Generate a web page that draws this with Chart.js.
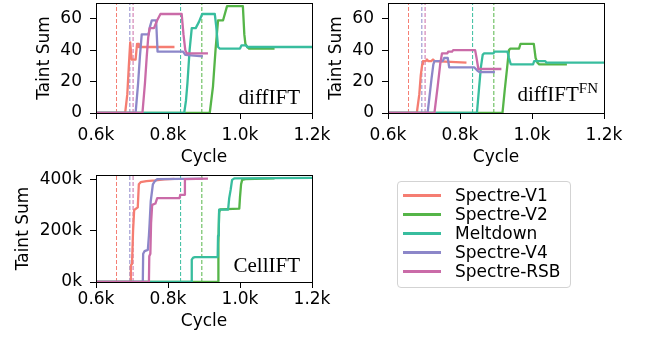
<!DOCTYPE html>
<html><head><meta charset="utf-8">
<script src="https://cdn.jsdelivr.net/npm/chart.js@4"></script>
<style>
html,body{margin:0;padding:0;background:#fff;width:645px;height:339px;overflow:hidden;position:relative;}
canvas{position:absolute;}
#legend{position:absolute;left:397px;top:181px;width:174px;height:107px;border:1px solid #d3d3d3;border-radius:4px;background:#fff;box-sizing:border-box;font-family:'DejaVu Sans';font-size:17px;color:#000;}
.row{position:absolute;left:0;width:100%;height:19px;}
.sw{position:absolute;left:5px;top:8px;width:38px;height:3px;}
.lbl{position:absolute;left:57px;top:0;white-space:nowrap;line-height:19px;}
</style></head><body>
<canvas id="c1" width="335" height="170" style="left:0;top:0"></canvas>
<canvas id="c2" width="320" height="170" style="left:325px;top:0"></canvas>
<canvas id="c3" width="335" height="169" style="left:0;top:170px"></canvas>
<div id="legend"></div>
<script>
// ---------- data ----------
const seriesNames = ['Spectre-V1','Spectre-V2','Meltdown','Spectre-V4','Spectre-RSB'];
const seriesColors = ['#f57d72','#55b548','#38bd9e','#8c87c9','#ca6ba8'];
const attackCycles = [657, 894, 835, 694, 703];   // dashed markers, per series
const xTickValues = [600, 800, 1000, 1200];
const xTickLabels = ['0.6k','0.8k','1.0k','1.2k'];
const diffYTickValues = [0, 20, 40, 60];
const diffYTickLabels = ['0','20','40','60'];
const cellYTickValues = [0, 200, 400];            // thousands
const cellYTickLabels = ['0k','200k','400k'];

// diffIFT  [cycle, taint sum]
const diffIFT_V1  = [[600,0],[681,0],[687,12],[691,29],[695,45],[697,45],[699,34],[710,34],[714,44],[717,44],[719,42],[818,42]];
const diffIFT_V2  = [[600,0],[916,0],[925,17],[932,40],[939,59],[953,59],[964,68],[1008,68],[1012,50],[1015,44],[1020,42],[1025,41],[1096,41]];
const diffIFT_MD  = [[600,0],[845,0],[850,8],[854,19],[860,40],[866,54],[877,54],[886,58],[895,63],[930,63],[934,55],[939,42],[944,41],[1000,41],[1004,43],[1017,43],[1020,42],[1200,42]];
const diffIFT_V4  = [[600,0],[710,0],[717,19],[722,36],[727,50],[746,50],[750,55],[755,59],[767,59],[771,39],[842,39],[848,37],[897,36]];
const diffIFT_RSB = [[600,0],[729,0],[736,19],[741,36],[745,48],[749,54],[761,54],[770,59],[779,63],[838,63],[843,50],[848,40],[852,38],[911,38]];

// diffIFT^FN
const diffFN_V1  = [[600,0],[680,0],[687,12],[691,24],[695,31],[697,33],[705,33],[708,34],[712,33],[720,33],[725,34],[730,33],[818,32]];
const diffFN_V2  = [[600,0],[918,0],[924,14],[931,29],[936,40],[940,41],[964,41],[968,44],[1005,44],[1010,35],[1015,32],[1020,31],[1097,31]];
const diffFN_MD  = [[600,0],[847,0],[853,16],[858,29],[863,37],[867,38],[893,38],[896,39],[932,39],[936,35],[941,31],[1003,31],[1006,33],[1037,33],[1040,32],[1200,32]];
const diffFN_V4  = [[600,0],[710,0],[715,10],[721,22],[726,31],[729,33],[752,33],[756,35],[766,35],[770,29],[840,29],[848,27],[854,26],[897,26]];
const diffFN_RSB = [[600,0],[729,0],[738,17],[745,31],[750,38],[765,38],[767,39],[778,39],[781,40],[842,40],[846,35],[851,28],[915,28]];

// CellIFT (taint sum in thousands)
const cell_V1  = [[600,0],[696,0],[697,65],[700,70],[703,200],[706,280],[716,290],[719,380],[724,388],[740,392],[765,395],[790,399],[818,401]];
const cell_V2  = [[600,0],[939,0],[940,150],[942,270],[945,282],[998,285],[1000,330],[1003,380],[1006,397],[1015,400],[1096,403]];
const cell_MD  = [[600,0],[865,0],[866,87],[870,95],[875,97],[938,97],[939,180],[941,200],[942,281],[967,281],[970,326],[974,358],[978,397],[985,403],[1200,405]];
const cell_V4  = [[600,0],[730,0],[731,110],[735,120],[744,125],[747,180],[749,229],[752,313],[758,380],[763,391],[770,400],[897,402]];
const cell_RSB = [[600,0],[747,0],[748,100],[751,110],[753,230],[756,300],[765,305],[770,326],[832,326],[834,339],[845,339],[847,400],[911,402]];

// ---------- drawing ----------
const FONT = 'DejaVu Sans';
const framePlugin = {
  id: 'frame',
  afterDatasetsDraw(chart) {
    const {ctx, chartArea: a} = chart;
    ctx.save();
    ctx.strokeStyle = '#000'; ctx.lineWidth = 1;
    const l = Math.floor(a.left) + 0.5, t = Math.floor(a.top) + 0.5;
    const r = Math.floor(a.right) + 0.5, b = Math.floor(a.bottom) + 0.5;
    ctx.strokeRect(l, t, r - l, b - t);
    ctx.restore();
  }
};
const tagPlugin = {
  id: 'tag',
  afterDraw(chart, args, opts) {
    if (!opts.text) return;
    const {ctx, chartArea: a} = chart;
    ctx.save();
    ctx.fillStyle = '#000';
    ctx.textBaseline = 'alphabetic';
    ctx.textAlign = 'right';
    let x = a.right - opts.dx;
    const y = a.bottom - opts.dy;
    if (opts.sup) {
      ctx.font = '15px "Liberation Serif"';
      ctx.fillText(opts.sup, x, y - 8);
      x -= ctx.measureText(opts.sup).width;
    }
    ctx.font = '21px "Liberation Serif"';
    ctx.fillText(opts.text, x, y);
    ctx.restore();
  }
};

function makeChart(id, series, g) {
  const datasets = [];
  attackCycles.forEach((c, i) => {
    datasets.push({
      data: [{x: c, y: 0}, {x: c, y: g.yMax}],
      borderColor: seriesColors[i], borderWidth: 1, borderDash: [4, 2],
      pointRadius: 0, order: 20
    });
  });
  series.forEach((pts, i) => {
    datasets.push({
      label: seriesNames[i],
      data: pts.map(p => ({x: p[0], y: p[1]})),
      borderColor: seriesColors[i], borderWidth: 2.3,
      borderJoinStyle: 'round', borderCapStyle: 'butt',
      pointRadius: 0, tension: 0, fill: false, order: 10 - i
    });
  });
  const tickFont = {family: FONT, size: 17};
  return new Chart(document.getElementById(id), {
    type: 'line',
    data: {datasets},
    plugins: [framePlugin, tagPlugin],
    options: {
      responsive: false, animation: false, devicePixelRatio: 1,
      layout: {padding: {left: g.L, top: g.T, right: g.R, bottom: 0}},
      plugins: {legend: {display: false}, tooltip: {enabled: false}, tag: g.tag},
      scales: {
        x: {
          type: 'linear', min: 600, max: 1200,
          afterBuildTicks: s => { s.ticks = xTickValues.map(v => ({value: v})); },
          afterFit: s => { s.height = g.xh; s.paddingLeft = 0; s.paddingRight = 0; },
          ticks: {font: tickFont, color: '#000', padding: g.xPad, maxRotation: 0, autoSkip: false,
                  callback: v => xTickLabels[xTickValues.indexOf(v)]},
          grid: {display: true, drawOnChartArea: false, drawTicks: true, tickLength: 6, tickWidth: 1, tickColor: '#000'},
          border: {display: false},
          title: {display: true, text: 'Cycle', font: tickFont, color: '#000', padding: {top: 0, bottom: g.xtPad}}
        },
        y: {
          type: 'linear', min: 0, max: g.yMax,
          afterBuildTicks: s => { s.ticks = g.yVals.map(v => ({value: v})); },
          afterFit: s => { s.width = g.yw; s.paddingTop = 0; s.paddingBottom = 0; },
          ticks: {font: tickFont, color: '#000', padding: 8, autoSkip: false,
                  callback: v => g.yLabs[g.yVals.indexOf(v)]},
          grid: {display: true, drawOnChartArea: false, drawTicks: true, tickLength: 6, tickWidth: 1, tickColor: '#000'},
          border: {display: false},
          title: {display: true, text: 'Taint Sum', font: tickFont, color: '#000', padding: {top: 0, bottom: 0}}
        }
      }
    }
  });
}

makeChart('c1', [diffIFT_V1, diffIFT_V2, diffIFT_MD, diffIFT_V4, diffIFT_RSB],
  {L: 34.8, T: 3, R: 23, yw: 61.2, xh: 57, xPad: 6, xtPad: 2.3, yMax: 70,
   yVals: diffYTickValues, yLabs: diffYTickLabels, tag: {text: 'diffIFT', dx: 12, dy: 9.5}});
makeChart('c2', [diffFN_V1, diffFN_V2, diffFN_MD, diffFN_V4, diffFN_RSB],
  {L: 1.5, T: 3, R: 41, yw: 61.5, xh: 57, xPad: 6, xtPad: 2.3, yMax: 70,
   yVals: diffYTickValues, yLabs: diffYTickLabels, tag: {text: 'diffIFT', sup: 'FN', dx: 6, dy: 12.5}});
makeChart('c3', [cell_V1, cell_V2, cell_MD, cell_V4, cell_RSB],
  {L: 13.1, T: 5, R: 23, yw: 82.9, xh: 57, xPad: 1.5, xtPad: 6.8, yMax: 416,
   yVals: cellYTickValues, yLabs: cellYTickLabels, tag: {text: 'CellIFT', dx: 12, dy: 10}});

// legend (HTML, real text)
const leg = document.getElementById('legend');
seriesNames.forEach((n, i) => {
  const row = document.createElement('div');
  row.className = 'row';
  row.style.top = (4 + i * 18.9) + 'px';
  row.innerHTML = '<span class="sw" style="background:' + seriesColors[i] + '"></span><span class="lbl">' + n + '</span>';
  leg.appendChild(row);
});
</script>
</body></html>
